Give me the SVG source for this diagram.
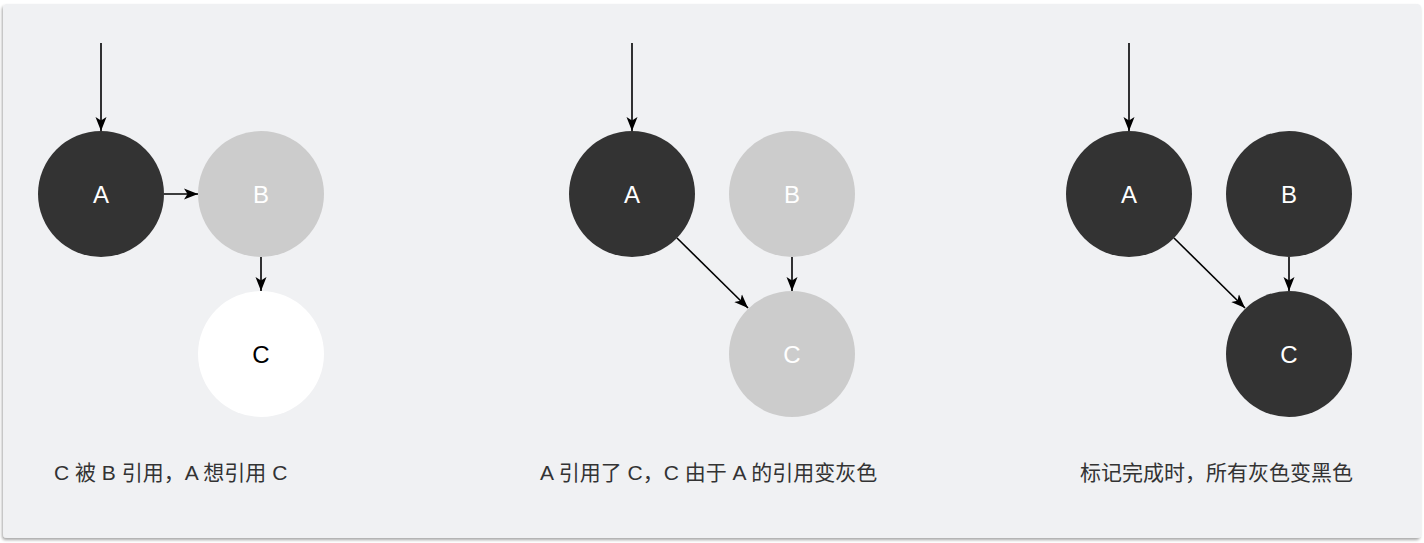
<svg xmlns="http://www.w3.org/2000/svg" width="1424" height="543" viewBox="0 0 1424 543">
<defs>
<marker id="ah" markerWidth="16" markerHeight="12" viewBox="0 0 16 12" refX="14" refY="6" orient="auto" markerUnits="userSpaceOnUse">
<path d="M0,0.5 L14,6 L0,11.5 L3.5,6 Z" fill="#000"/>
</marker>
<filter id="sh" x="-2%" y="-2%" width="104%" height="106%">
<feGaussianBlur in="SourceAlpha" stdDeviation="1.5"/>
<feOffset dx="-1" dy="2" result="b"/>
<feComponentTransfer><feFuncA type="linear" slope="0.35"/></feComponentTransfer>
<feMerge><feMergeNode/><feMergeNode in="SourceGraphic"/></feMerge>
</filter>
</defs>
<style>
.dark{fill:#333333}
.gray{fill:#cccccc}
.white{fill:#ffffff}
.lbl{font-family:"Liberation Sans",Arial,sans-serif;font-size:24px;text-anchor:middle;dominant-baseline:central}
.lw{fill:#ffffff}
.lk{fill:#000000}
.cap{font-family:"Liberation Sans","Noto Sans CJK SC",sans-serif;font-size:21px;fill:#333333}
.ed{stroke:#000;stroke-width:1.6;fill:none;marker-end:url(#ah)}
</style>
<rect width="1424" height="543" fill="#ffffff"/>
<rect x="3" y="4" width="1418" height="534" rx="4" fill="#f0f1f3" filter="url(#sh)"/>

<g id="p1-A"><circle cx="101" cy="194" r="63" class="dark"/><text x="101" y="194" class="lbl lw">A</text></g>
<g id="p1-B"><circle cx="261" cy="194" r="63" class="gray"/><text x="261" y="194" class="lbl lw">B</text></g>
<g id="p1-C"><circle cx="261" cy="354" r="63" class="white"/><text x="261" y="354" class="lbl lk">C</text></g>

<g id="p2-A"><circle cx="632" cy="194" r="63" class="dark"/><text x="632" y="194" class="lbl lw">A</text></g>
<g id="p2-B"><circle cx="792" cy="194" r="63" class="gray"/><text x="792" y="194" class="lbl lw">B</text></g>
<g id="p2-C"><circle cx="792" cy="354" r="63" class="gray"/><text x="792" y="354" class="lbl lw">C</text></g>

<g id="p3-A"><circle cx="1129" cy="194" r="63" class="dark"/><text x="1129" y="194" class="lbl lw">A</text></g>
<g id="p3-B"><circle cx="1289" cy="194" r="63" class="dark"/><text x="1289" y="194" class="lbl lw">B</text></g>
<g id="p3-C"><circle cx="1289" cy="354" r="63" class="dark"/><text x="1289" y="354" class="lbl lw">C</text></g>

<g id="connectors">
<path class="ed" d="M101,43 V131"/>
<path class="ed" d="M164,194 H198"/>
<path class="ed" d="M261,257 V291"/>
<path class="ed" d="M632,43 V131"/>
<path class="ed" d="M677,238 L748,308"/>
<path class="ed" d="M792,257 V291"/>
<path class="ed" d="M1129,43 V131"/>
<path class="ed" d="M1174,238 L1245,308"/>
<path class="ed" d="M1289,257 V291"/>
</g>

<g id="captions">
<text x="54" y="480" class="cap">C 被 B 引用，A 想引用 C</text>
<text x="540" y="480" class="cap">A 引用了 C，C 由于 A 的引用变灰色</text>
<text x="1080" y="480" class="cap">标记完成时，所有灰色变黑色</text>
</g>
</svg>
